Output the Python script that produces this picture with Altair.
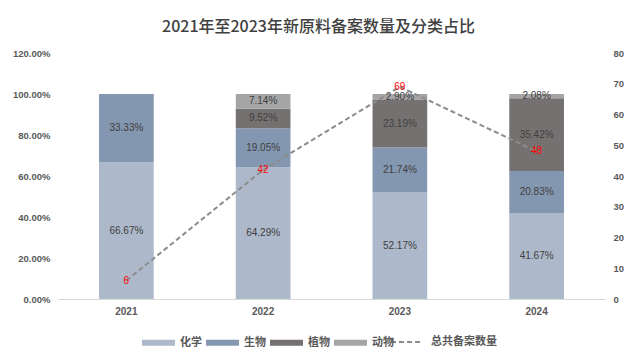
import altair as alt
import pandas as pd

years = ["2021", "2022", "2023", "2024"]
categories = ["化学", "生物", "植物", "动物"]
chem = [0.6667, 0.6429, 0.5217, 0.4167]
bio = [0.3333, 0.1905, 0.2174, 0.2083]
plant = [0.0, 0.0952, 0.2319, 0.3542]
animal = [0.0, 0.0714, 0.0290, 0.0208]
totals = [6, 42, 69, 48]
colors = ["#ADB9CA", "#8497B0", "#767171", "#A5A5A5"]

FONT = "Liberation Sans, Noto Sans CJK SC, sans-serif"
CJK = "Noto Sans CJK SC, Liberation Sans, sans-serif"

rows = []
for i, y in enumerate(years):
    for k, (cat, vals) in enumerate(zip(categories, [chem, bio, plant, animal])):
        rows.append({"year": y, "category": cat, "order": k, "value": vals[i]})
df = pd.DataFrame(rows)
line_df = pd.DataFrame({"year": years, "total": totals, "series": ["总共备案数量"] * 4})

xenc = alt.X(
    "year:N",
    sort=years,
    scale=alt.Scale(paddingInner=0.6, paddingOuter=0.3),
    axis=alt.Axis(title=None, labelAngle=0, domainColor="#D9D9D9", ticks=False,
                  labelPadding=7, labelFont=FONT, labelFontSize=10,
                  labelFontWeight="bold", labelColor="#595959"),
)

left_axis = alt.Axis(title=None, values=[0, 0.2, 0.4, 0.6, 0.8, 1.0, 1.2],
                     format=".2%", domain=False, ticks=False, grid=False,
                     labelOverlap=False,
                     labelPadding=8, labelFont=FONT, labelFontSize=9.5,
                     labelFontWeight="bold", labelColor="#595959")
right_axis = alt.Axis(title=None, orient="right", values=list(range(0, 81, 10)),
                      domain=False, ticks=False, grid=False, labelPadding=8,
                      labelOverlap=False,
                      labelFont=FONT, labelFontSize=9.5, labelFontWeight="bold",
                      labelColor="#595959")

stacked = (
    alt.Chart(df)
    .transform_filter("datum.value > 0")
    .transform_stack(stack="value", groupby=["year"], as_=["y0", "y1"],
                     sort=[alt.SortField("order", "ascending")])
    .transform_calculate(mid="(datum.y0 + datum.y1) / 2")
)

yleft = alt.Scale(domain=[0, 1.2])
bars = stacked.mark_bar().encode(
    x=xenc,
    y=alt.Y("y0:Q", scale=yleft, axis=left_axis),
    y2="y1:Q",
    color=alt.Color("category:N",
                    scale=alt.Scale(domain=categories, range=colors),
                    legend=alt.Legend(title=None, orient="none", direction="horizontal",
                                      columns=4, legendX=84, legendY=273,
                                      symbolType="M-1,-0.18L1,-0.18L1,0.18L-1,0.18Z",
                                      symbolSize=1089, symbolStrokeWidth=0,
                                      symbolOpacity=1,
                                      labelFont=CJK, labelFontSize=11,
                                      labelFontWeight="bold", labelColor="#595959",
                                      labelOffset=5, columnPadding=4)),
)
bar_text = stacked.mark_text(font=FONT, fontSize=10, color="#404040").encode(
    x=xenc,
    y=alt.Y("mid:Q", scale=yleft, axis=left_axis),
    text=alt.Text("value:Q", format=".2%"),
)

yright = alt.Scale(domain=[0, 80])
line = alt.Chart(line_df).mark_line(stroke="#8C8C8C", strokeWidth=2).encode(
    x=xenc,
    y=alt.Y("total:Q", scale=yright, axis=right_axis),
    strokeDash=alt.StrokeDash("series:N",
                              scale=alt.Scale(domain=["总共备案数量"], range=[[5, 3]]),
                              legend=alt.Legend(title=None, orient="none",
                                                legendX=332, legendY=273,
                                                symbolType="stroke", symbolSize=900,
                                                symbolStrokeWidth=2,
                                                symbolStrokeColor="#8C8C8C",
                                                labelFont=CJK, labelFontSize=11,
                                                labelFontWeight="bold",
                                                labelColor="#595959", labelOffset=9)),
)
line_text = alt.Chart(line_df).mark_text(font=FONT, fontSize=10, color="#FF0000").encode(
    x=xenc,
    y=alt.Y("total:Q", scale=yright, axis=right_axis),
    text="total:Q",
)

chart = (
    alt.layer(alt.layer(bars, bar_text), alt.layer(line, line_text))
    .resolve_scale(y="independent", color="independent")
    .properties(
        width=547, height=246,
        background="white",
        autosize=alt.AutoSizeParams(type="none"),
        padding={"left": 50, "top": 45, "right": 22, "bottom": 53},
        title=alt.TitleParams("2021年至2023年新原料备案数量及分类占比", font=CJK,
                              fontSize=16, fontWeight=500, color="#404040",
                              dx=-13, offset=13, frame="group"),
    )
    .configure_view(stroke=None, strokeWidth=0)
)

chart.save("out.html", embed_options={"renderer": "svg", "actions": False})
